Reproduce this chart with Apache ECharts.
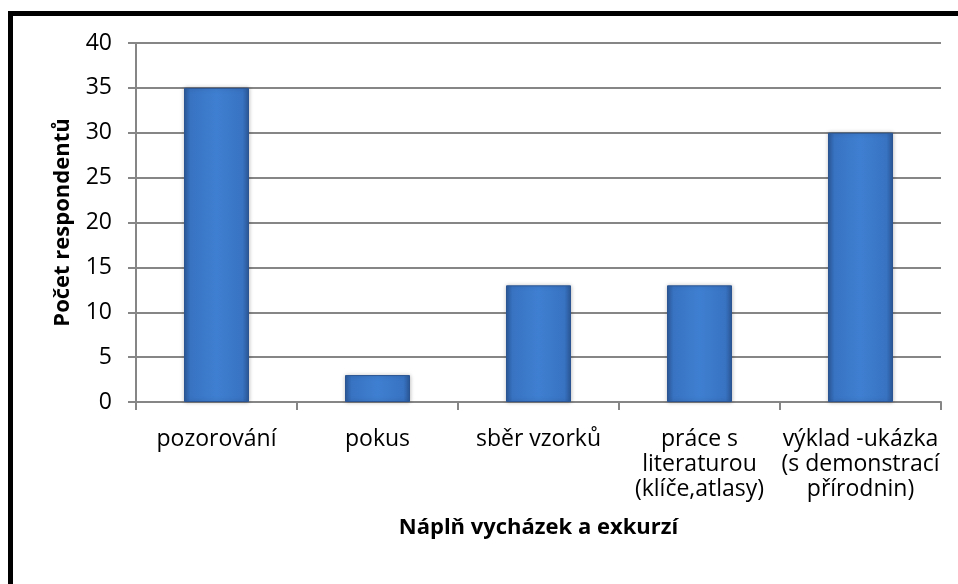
<!DOCTYPE html>
<html>
<head>
<meta charset="utf-8">
<script src="https://cdn.jsdelivr.net/npm/echarts@6/dist/echarts.min.js"></script>
<style>
  html, body { margin: 0; padding: 0; background: #fff; }
  #chart { width: 958px; height: 584px; }
</style>
</head>
<body>
<div id="chart"></div>
<script type="text/javascript">
// data
var categories = ['pozorování', 'pokus', 'sběr vzorků', 'práce s\nliteraturou\n(klíče,atlasy)', 'výklad -ukázka\n(s demonstrací\npřírodnin)'];
var respondents = [35, 3, 13, 13, 30];
var yTicks = [0, 5, 10, 15, 20, 25, 30, 35, 40];

var font = '"Open Sans", "Noto Sans", sans-serif';
var gray = '#868686';

var barColor = new echarts.graphic.LinearGradient(0, 0, 1, 0, [
    { offset: 0, color: '#2c5a9b' },
    { offset: 0.1, color: '#3873c2' },
    { offset: 0.5, color: '#3f7fd1' },
    { offset: 0.9, color: '#3873c2' },
    { offset: 1, color: '#2c5a9b' }
]);

var myChart = echarts.init(document.getElementById('chart'));
myChart.setOption({
    animation: false,
    textStyle: { fontFamily: font },
    graphic: [{
        type: 'rect',
        shape: { x: 10.5, y: 13.5, width: 1200, height: 1200 },
        style: { fill: 'none', stroke: '#000', lineWidth: 5 },
        silent: true
    }],
    grid: { left: 136, right: 17, top: 43, bottom: 182 },
    xAxis: {
        type: 'category',
        data: categories,
        name: 'Náplň vycházek a exkurzí',
        nameLocation: 'middle',
        nameGap: 115,
        nameTextStyle: { fontFamily: font, fontSize: 22, fontWeight: 'bold', color: '#000' },
        axisLine: { lineStyle: { color: gray, width: 2 } },
        axisTick: { show: true, length: 8, lineStyle: { color: gray, width: 2 } },
        axisLabel: { interval: 0, margin: 25, fontSize: 23, lineHeight: 25, color: '#000', fontFamily: font }
    },
    yAxis: {
        type: 'value',
        min: 0,
        max: 40,
        interval: 5,
        name: 'Počet respondentů',
        nameLocation: 'middle',
        nameRotate: 90,
        nameGap: 62,
        nameTextStyle: { fontFamily: font, fontSize: 22, fontWeight: 'bold', color: '#000' },
        axisLine: { show: true, lineStyle: { color: gray, width: 2 } },
        axisTick: { show: true, length: 8, lineStyle: { color: gray, width: 2 } },
        splitLine: { lineStyle: { color: gray, width: 2 } },
        axisLabel: {
            margin: 24, fontSize: 23, color: '#000', fontFamily: font,
            formatter: function (v) { return yTicks.indexOf(v) >= 0 ? String(v) : ''; }
        }
    },
    series: [{
        type: 'bar',
        data: respondents,
        barWidth: 65,
        itemStyle: {
            color: barColor,
            borderColor: '#2a5592',
            borderWidth: 1,
            shadowColor: 'rgba(0,0,0,0.25)',
            shadowBlur: 4
        }
    }]
});
</script>
</body>
</html>
